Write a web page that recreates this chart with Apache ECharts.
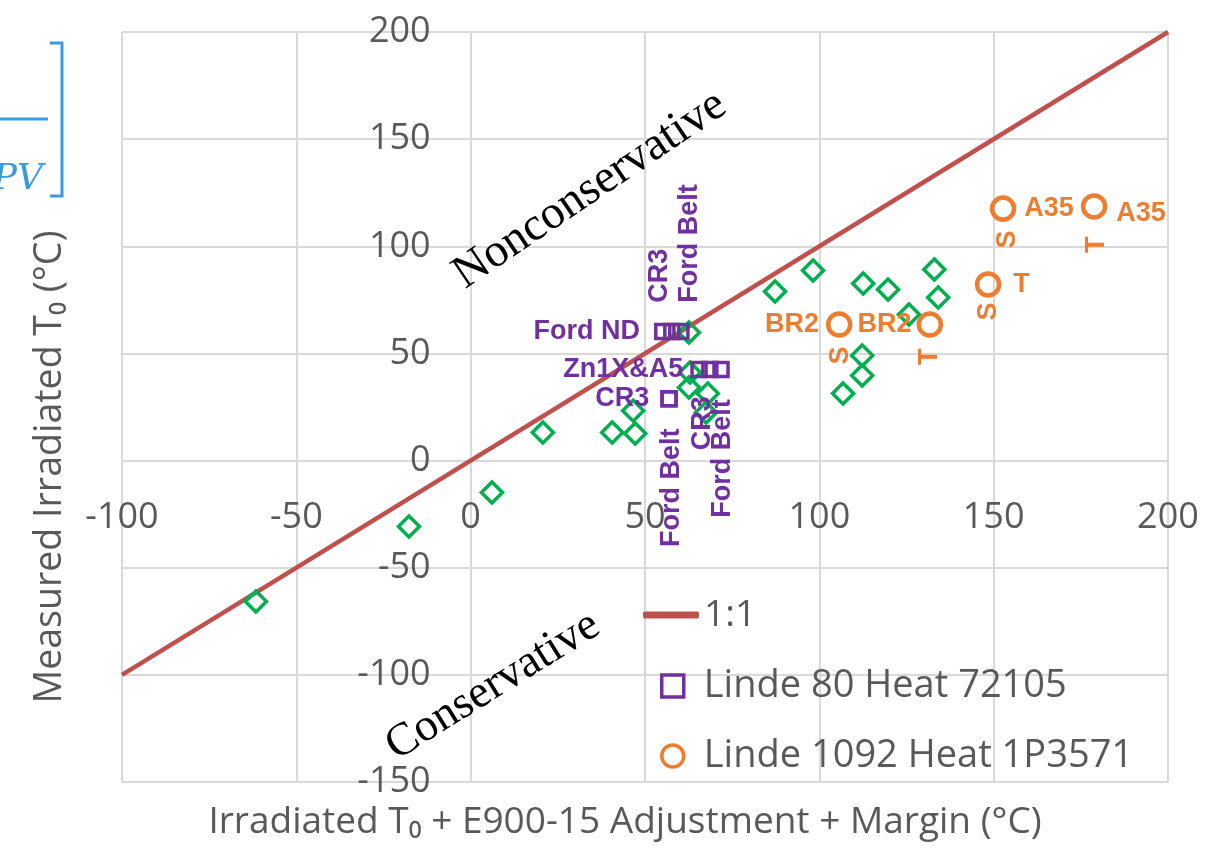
<!DOCTYPE html>
<html>
<head>
<meta charset="utf-8">
<script src="https://cdn.jsdelivr.net/npm/echarts@6/dist/echarts.min.js"></script>
<style>
html,body{margin:0;padding:0;background:#fff;}
#chart{width:1207px;height:849px;}
</style>
</head>
<body>
<div id="chart"></div>
<script>
// ---------- data ----------
const xTicks = [-100, -50, 0, 50, 100, 150, 200];
const yTicks = [-150, -100, -50, 0, 50, 100, 150, 200];

const oneToOneX = [-100, 200];
const oneToOneY = [-100, 200];

// unlabelled green diamonds
const greenX = [-61.6, -17.7, 6.1, 20.7, 40.6, 47.2, 46.6, 62.6, 62.9, 62.6, 68.0, 67.5, 87.3, 98.2, 112.6, 119.7, 133.0, 134.1, 125.7, 112.3, 112.3, 106.8];
const greenY = [-65.8, -30.8, -14.9, 13.1, 13.1, 12.6, 23.3, 59.8, 41.1, 34.1, 31.3, 22.4, 78.9, 88.7, 82.6, 79.8, 89.2, 76.1, 68.2, 49.0, 39.7, 31.3];

// Linde 80 Heat 72105
const l80Name = 'Linde 80 Heat 72105';
const l80X = [55.1, 57.7, 60.3, 65.5, 68.6, 71.8, 56.9, 56.9];
const l80Y = [60.2, 60.2, 60.2, 42.5, 42.5, 42.5, 28.9, 28.9];
const l80Labels = ['Ford ND', 'CR3', 'Ford Belt', 'Zn1X&A5', 'CR3', 'Ford Belt', 'CR3', 'Ford Belt'];

// Linde 1092 Heat 1P3571
const l1092Name = 'Linde 1092 Heat 1P3571';
const l1092X = [105.7, 131.7, 148.4, 152.7, 178.8];
const l1092Y = [63.5, 63.5, 82.2, 117.6, 118.6];
const l1092Material = ['BR2', 'BR2', 'T', 'A35', 'A35'];
const l1092Orient = ['S', 'T', 'S', 'S', 'T'];

// ---------- label placement (layout only) ----------
const l80Place = [
  {kind:'left', d:14}, {kind:'up', d:20, s:-12}, {kind:'up', d:20, s:9},
  {kind:'left', d:7},  {kind:'down', d:18, s:-7}, {kind:'down', d:21, s:2},
  {kind:'left', d:11}, {kind:'down', d:21, s:2}
];
const l1092MatPlace = [
  {kind:'left', d:7}, {kind:'left', d:5}, {kind:'right', d:12},
  {kind:'right', d:8}, {kind:'right', d:9, s:7}
];
const l1092OriPlace = [
  {kind:'down', d:11, s:1}, {kind:'down', d:13, s:0}, {kind:'down', d:7, s:0},
  {kind:'down', d:11, s:4}, {kind:'down', d:19, s:2}
];

const PURPLE = '#7030A0', ORANGE = '#ED7D31', GREEN = '#00B050', RED = '#C0504D';
const GRAY = '#595959', GRID = '#d9d9d9';
const SANS = '"Open Sans", sans-serif';
const LABEL_FONT = {fontFamily:'"Liberation Sans", Arial, sans-serif', fontWeight:'bold', fontSize:27};

function labelCfg(text, p, color) {
  const base = Object.assign({show:true, formatter:text, color:color}, LABEL_FONT);
  const s = p.s || 0;
  if (p.kind === 'left') return Object.assign(base, {position:'left', distance:p.d, offset:[0, s]});
  if (p.kind === 'right') return Object.assign(base, {position:'right', distance:p.d, offset:[0, s]});
  // rotated 90deg CCW; offset is rotated too, so [0, s] shifts horizontally by s
  if (p.kind === 'up') return Object.assign(base, {position:'top', distance:p.d, rotate:90, align:'left', verticalAlign:'middle', offset:[0, s]});
  return Object.assign(base, {position:'bottom', distance:p.d, rotate:90, align:'right', verticalAlign:'middle', offset:[0, s]});
}

const greenData = greenX.map((x, i) => [x, greenY[i]]);
const l80Data = l80X.map((x, i) => ({value:[x, l80Y[i]], label: labelCfg(l80Labels[i], l80Place[i], PURPLE)}));
const l1092Data = l1092X.map((x, i) => ({value:[x, l1092Y[i]], label: labelCfg(l1092Material[i], l1092MatPlace[i], ORANGE)}));
const l1092OriData = l1092X.map((x, i) => ({value:[x, l1092Y[i]], label: labelCfg(l1092Orient[i], l1092OriPlace[i], ORANGE)}));
const lineData = oneToOneX.map((x, i) => [x, oneToOneY[i]]);

// ---------- layout ----------
const G = {left:122, top:32, width:1046, height:750};
const xMin = xTicks[0], xMax = xTicks[xTicks.length-1];
const yMin = yTicks[0], yMax = yTicks[yTicks.length-1];
// move both axes onto the zero lines (labels follow the axis)
const xAxisOffset = -(G.height * (0 - yMin) / (yMax - yMin));
const yAxisOffset = -(G.width * (0 - xMin) / (xMax - xMin));

const chart = echarts.init(document.getElementById('chart'), null, {renderer:'canvas'});
const axisLabelStyle = {fontFamily:SANS, fontSize:36, color:GRAY};

chart.setOption({
  animation:false,
  backgroundColor:'#ffffff',
  grid:{left:G.left, top:G.top, width:G.width, height:G.height, containLabel:false},
  xAxis:{
    type:'value', min:xMin, max:xMax, interval:50, position:'bottom', offset:xAxisOffset,
    axisLine:{show:true, onZero:false, lineStyle:{color:GRID, width:2}},
    axisTick:{show:false},
    splitLine:{show:true, lineStyle:{color:GRID, width:2}},
    axisLabel:Object.assign({margin:39, showMinLabel:true, showMaxLabel:true}, axisLabelStyle)
  },
  yAxis:{
    type:'value', min:yMin, max:yMax, interval:50, position:'left', offset:yAxisOffset,
    axisLine:{show:true, onZero:false, lineStyle:{color:GRID, width:2}},
    axisTick:{show:false},
    splitLine:{show:true, lineStyle:{color:GRID, width:2}},
    axisLabel:Object.assign({margin:40, showMinLabel:true, showMaxLabel:true}, axisLabelStyle)
  },
  legend:[
    {
      data:['1:1'], left:643, top:595, padding:0, orient:'vertical',
      icon:'roundRect', itemWidth:56, itemHeight:7,
      itemStyle:{color:RED},
      textStyle:{fontFamily:SANS, fontSize:37, color:GRAY, lineHeight:40},
      selectedMode:false
    },
    {
      data:[l80Name, l1092Name], left:660, top:666, padding:0, orient:'vertical',
      itemWidth:22, itemHeight:22, itemGap:30,
      itemStyle:{borderWidth:3.5},
      textStyle:{fontFamily:SANS, fontSize:38, color:GRAY, lineHeight:40, padding:[0,0,0,15]},
      selectedMode:false
    }
  ],
  series:[
    {
      name:'1:1', type:'line', data:lineData, symbol:'none', z:1,
      lineStyle:{color:RED, width:4.5}, itemStyle:{color:RED}
    },
    {
      name:'Data', type:'scatter', data:greenData, symbol:'diamond', symbolSize:21, z:2,
      itemStyle:{color:'rgba(0,0,0,0)', borderColor:GREEN, borderWidth:3.5, opacity:1}
    },
    {
      name:l80Name, type:'scatter', data:l80Data, symbol:'rect', symbolSize:14, z:3,
      itemStyle:{color:'rgba(0,0,0,0)', borderColor:PURPLE, borderWidth:3.5, opacity:1}
    },
    {
      name:l1092Name, type:'scatter', data:l1092Data, symbol:'circle', symbolSize:22, z:3,
      itemStyle:{color:'rgba(0,0,0,0)', borderColor:ORANGE, borderWidth:4.5, opacity:1}
    },
    {
      name:'orientation', type:'scatter', data:l1092OriData, symbol:'circle', symbolSize:22, z:3,
      itemStyle:{color:'rgba(0,0,0,0)', borderColor:'rgba(0,0,0,0)', borderWidth:0, opacity:1}
    }
  ],
  graphic:[
    {type:'text', x:625, y:822, z:50, style:{text:'Irradiated T\u2080 + E900-15 Adjustment + Margin (\u00B0C)', x:0, y:0, align:'center', verticalAlign:'middle', fontFamily:SANS, fontSize:37, fill:GRAY}},
    {type:'text', x:50, y:467, rotation:Math.PI/2, z:50, style:{text:'Measured Irradiated T\u2080 (\u00B0C)', x:0, y:0, align:'center', verticalAlign:'middle', fontFamily:SANS, fontSize:37.5, fill:GRAY}},
    {type:'text', x:590, y:190, rotation:34*Math.PI/180, z:50, style:{text:'Nonconservative', x:0, y:0, align:'center', verticalAlign:'middle', fontFamily:'"Liberation Serif", "Times New Roman", serif', fontSize:47, fill:'#000'}},
    {type:'text', x:493, y:686, rotation:32*Math.PI/180, z:50, style:{text:'Conservative', x:0, y:0, align:'center', verticalAlign:'middle', fontFamily:'"Liberation Serif", "Times New Roman", serif', fontSize:46, fill:'#000'}},
    // top-left overlay with the cropped blue bracket
    {type:'rect', z:60, shape:{x:0, y:0, width:119, height:231}, style:{fill:'#ffffff'}},
    {type:'line', z:61, shape:{x1:0, y1:119, x2:48, y2:119}, style:{stroke:'#3A9BDC', lineWidth:3}},
    {type:'polyline', z:61, shape:{points:[[50,43],[62,43],[62,196],[50,196]]}, style:{stroke:'#3A9BDC', lineWidth:3, fill:null}},
    {type:'text', x:43, y:180, z:61, style:{text:'PV', x:0, y:0, align:'right', verticalAlign:'middle', fontFamily:'"DejaVu Serif", serif', fontStyle:'italic', fontSize:36, fill:'#3A9BDC'}}
  ]
});
</script>
</body>
</html>
